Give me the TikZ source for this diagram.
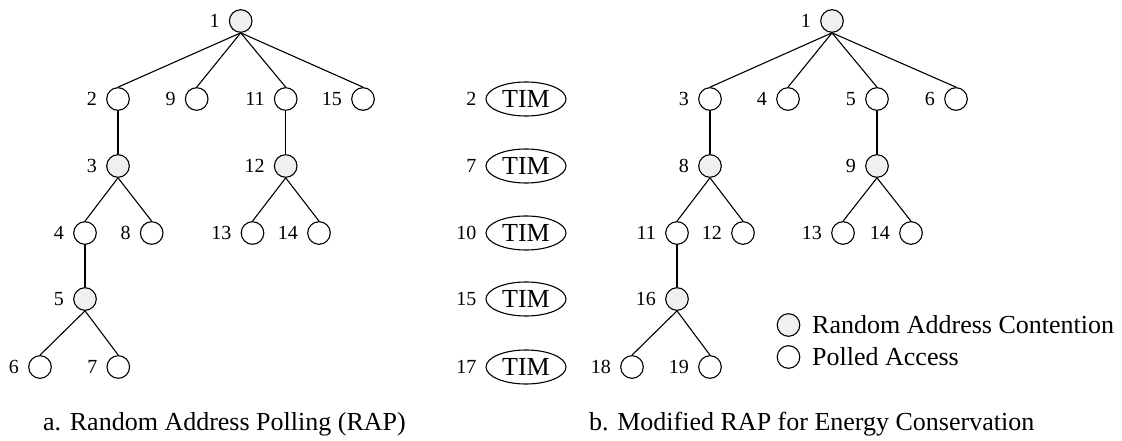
\documentclass[tikz,border=0pt]{standalone}
\usepackage{fontspec}
\setmainfont{Liberation Serif}
\usetikzlibrary{shapes.geometric}
\begin{document}
\begin{tikzpicture}[x=1pt,y=-1pt,
  nd/.style={circle,draw,line width=1.1pt,minimum size=22.6pt,inner sep=0pt},
  rac/.style={nd,fill=black!6},
  pa/.style={nd,fill=white},
  lbl/.style={font=\fontsize{20}{20}\selectfont,inner sep=0pt,label distance=9pt},
  edge/.style={line width=1.1pt},
  tim/.style={ellipse,draw,line width=1.1pt,minimum width=80pt,minimum height=34pt,inner sep=0pt,font=\fontsize{26}{26}\selectfont},
  captext/.style={font=\fontsize{26}{26}\selectfont,inner sep=0pt,anchor=base west},
  leg/.style={font=\fontsize{26}{26}\selectfont,inner sep=0pt,anchor=west}
]
\useasboundingbox (0,0) rectangle (1122,441);
% ---------- left tree ----------
\node[rac,label={[lbl]left:1}]  (a1)  at (240.7,21) {};
\node[pa,label={[lbl]left:2}]   (a2)  at (118,99) {};
\node[pa,label={[lbl]left:9}]   (a9)  at (196.7,99) {};
\node[pa,label={[lbl]left:11}]  (a11) at (285.7,99) {};
\node[pa,label={[lbl]left:15}]  (a15) at (363,99) {};
\node[rac,label={[lbl]left:3}]  (a3)  at (118,166) {};
\node[rac,label={[lbl]left:12}] (a12) at (285.7,166) {};
\node[pa,label={[lbl]left:4}]   (a4)  at (85,233) {};
\node[pa,label={[lbl]left:8}]   (a8)  at (151.7,233) {};
\node[pa,label={[lbl]left:13}]  (a13) at (252.5,233) {};
\node[pa,label={[lbl]left:14}]  (a14) at (319,233) {};
\node[rac,label={[lbl]left:5}]  (a5)  at (85,299) {};
\node[pa,label={[lbl]left:6}]   (a6)  at (40,367) {};
\node[pa,label={[lbl]left:7}]   (a7)  at (118.3,367) {};
\foreach \p/\c in {a1/a2,a1/a9,a1/a11,a1/a15,a2/a3,a11/a12,a3/a4,a3/a8,a12/a13,a12/a14,a4/a5,a5/a6,a5/a7}
  \draw[edge] (\p.south) -- (\c.north);
% ---------- TIM column ----------
\node[tim,label={[lbl]left:2}]  (t2)  at (526,99) {TIM};
\node[tim,label={[lbl]left:7}]  (t7)  at (526,166) {TIM};
\node[tim,label={[lbl]left:10}] (t10) at (526,233) {TIM};
\node[tim,label={[lbl]left:15}] (t15) at (526,299) {TIM};
\node[tim,label={[lbl]left:17}] (t17) at (526,367) {TIM};
% ---------- right tree ----------
\node[rac,label={[lbl]left:1}]  (b1)  at (832,21) {};
\node[pa,label={[lbl]left:3}]   (b3)  at (710,99) {};
\node[pa,label={[lbl]left:4}]   (b4)  at (788,99) {};
\node[pa,label={[lbl]left:5}]   (b5)  at (877,99) {};
\node[pa,label={[lbl]left:6}]   (b6)  at (956,99) {};
\node[rac,label={[lbl]left:8}]  (b8)  at (710,166) {};
\node[rac,label={[lbl]left:9}]  (b9)  at (877,166) {};
\node[pa,label={[lbl]left:11}]  (b11) at (677,233) {};
\node[pa,label={[lbl]left:12}]  (b12) at (743,233) {};
\node[pa,label={[lbl]left:13}]  (b13) at (843,233) {};
\node[pa,label={[lbl]left:14}]  (b14) at (911,233) {};
\node[rac,label={[lbl]left:16}] (b16) at (677,299) {};
\node[pa,label={[lbl]left:18}]  (b18) at (632,367) {};
\node[pa,label={[lbl]left:19}]  (b19) at (710,367) {};
\foreach \p/\c in {b1/b3,b1/b4,b1/b5,b1/b6,b3/b8,b5/b9,b8/b11,b8/b12,b9/b13,b9/b14,b11/b16,b16/b18,b16/b19}
  \draw[edge] (\p.south) -- (\c.north);
% ---------- legend ----------
\node[rac] (lg1) at (788.5,325) {};
\node[pa]  (lg2) at (788.5,357) {};
\node[leg] (lt1) at (812,325) {Random Address Contention};
\node[leg] (lt2) at (812,357) {Polled Access};
% ---------- captions ----------
\node[captext] (capa) at (43,430) {a. Random Address Polling (RAP)};
\node[captext] (capb) at (589,430) {b. Modified RAP for Energy Conservation};
\end{tikzpicture}
\end{document}
